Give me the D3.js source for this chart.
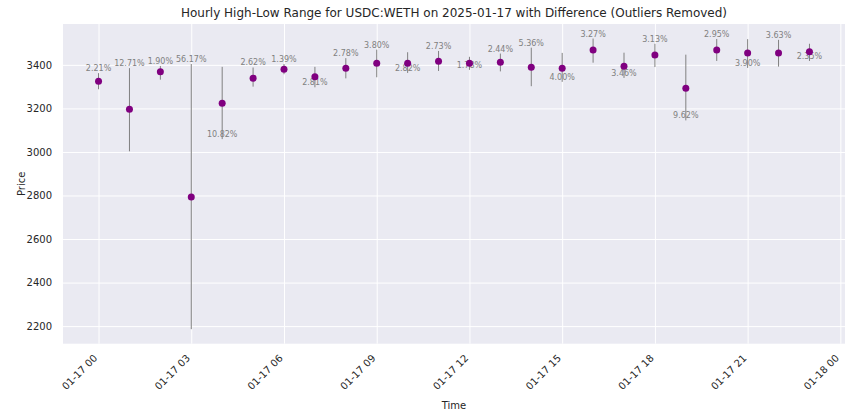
<!DOCTYPE html>
<html>
<head>
<meta charset="utf-8">
<script src="https://cdn.jsdelivr.net/npm/d3@7"></script>
<style>
  body { margin: 0; background: #fff; }
  text { font-family: "DejaVu Sans", sans-serif; }
</style>
</head>
<body>
<svg id="chart"></svg>
<script>
const hours = ["00:00", "01:00", "02:00", "03:00", "04:00", "05:00", "06:00", "07:00",
    "08:00", "09:00", "10:00", "11:00", "12:00", "13:00", "14:00", "15:00",
    "16:00", "17:00", "18:00", "19:00", "20:00", "21:00", "22:00", "23:00"];
const highs = [3362, 3385, 3395, 3404, 3391, 3388, 3404, 3391, 3431, 3470, 3458, 3464,
    3437, 3452, 3479, 3455, 3521, 3456, 3497, 3447, 3519, 3518, 3515, 3497];
const lows = [3288, 3003, 3332, 2186, 3059, 3300, 3357, 3297, 3338, 3343, 3363, 3372,
    3377, 3370, 3302, 3322, 3410, 3340, 3390, 3145, 3418, 3386, 3392, 3418];
const closes = [3325, 3196, 3368, 2793, 3224, 3339, 3380, 3345, 3385, 3408, 3408, 3417,
    3408, 3412, 3389, 3385, 3468, 3394, 3445, 3293, 3468, 3454, 3454, 3460];
const diffLabels = ["2.21%", "12.71%", "1.90%", "56.17%", "10.82%", "2.62%", "1.39%", "2.81%",
    "2.78%", "3.80%", "2.82%", "2.73%", "1.78%", "2.44%", "5.36%", "4.00%",
    "3.27%", "3.46%", "3.13%", "9.62%", "2.95%", "3.90%", "3.63%", "2.35%"];
// where the difference text sits: at the high or at the low
const labelAt = ["high", "high", "high", "high", "low", "high", "high", "low",
    "high", "high", "low", "high", "low", "high", "high", "low",
    "high", "low", "high", "low", "high", "low", "high", "low"];
const yTicks = [2200, 2400, 2600, 2800, 3000, 3200, 3400];

const parseTime = d3.timeParse("%Y-%m-%d %H:%M");
const data = hours.map((h, i) => ({
    time: parseTime("2025-01-17 " + h),
    high: highs[i],
    low: lows[i],
    close: closes[i],
    label: diffLabels[i],
    at: labelAt[i]
}));

const W = 852, H = 420;
const margin = {top: 24, right: 7, bottom: 76.3, left: 63};
const width = W - margin.left - margin.right;
const height = H - margin.top - margin.bottom;

const svg = d3.select("#chart")
    .attr("width", W)
    .attr("height", H);

svg.append("rect").attr("width", W).attr("height", H).attr("fill", "#fff");

const g = svg.append("g")
    .attr("transform", `translate(${margin.left},${margin.top})`);

// matplotlib style 5% padding
const tExt = d3.extent(data, d => d.time);
const tPad = (tExt[1] - tExt[0]) * 0.05;
const x = d3.scaleTime()
    .domain([new Date(+tExt[0] - tPad), new Date(+tExt[1] + tPad)])
    .range([0, width]);

const yMin = d3.min(data, d => d.low), yMax = d3.max(data, d => d.high);
const yPad = (yMax - yMin) * 0.05;
const y = d3.scaleLinear()
    .domain([yMin - yPad, yMax + yPad])
    .range([height, 0]);

g.append("rect")
    .attr("width", width)
    .attr("height", height)
    .attr("fill", "#eaeaf2");

const xTicks = x.ticks(d3.timeHour.every(3));

// grid
g.append("g")
    .attr("class", "grid x-grid")
    .attr("transform", `translate(0,${height})`)
    .call(d3.axisBottom(x).tickValues(xTicks).tickSize(-height).tickFormat(""))
    .call(s => s.select(".domain").remove())
    .selectAll("line")
    .attr("stroke", "#fff")
    .attr("stroke-width", 1);

g.append("g")
    .attr("class", "grid y-grid")
    .call(d3.axisLeft(y).tickValues(yTicks).tickSize(-width).tickFormat(""))
    .call(s => s.select(".domain").remove())
    .selectAll("line")
    .attr("stroke", "#fff")
    .attr("stroke-width", 1);

// axes text
const xAxis = g.append("g")
    .attr("class", "axis x-axis")
    .attr("transform", `translate(0,${height})`)
    .call(d3.axisBottom(x).tickValues(xTicks).tickSize(0).tickFormat(d3.timeFormat("%m-%d %H")));
xAxis.select(".domain").remove();
xAxis.selectAll("text")
    .attr("y", 0)
    .attr("dy", 0)
    .attr("text-anchor", "end")
    .attr("transform", "translate(-1,15) rotate(-45)")
    .style("font-size", "10px")
    .attr("fill", "#262626");

const yAxis = g.append("g")
    .attr("class", "axis y-axis")
    .call(d3.axisLeft(y).tickValues(yTicks).tickSize(0).tickPadding(11).tickFormat(d3.format("d")));
yAxis.select(".domain").remove();
yAxis.selectAll("text")
    .style("font-size", "10px")
    .attr("fill", "#262626");

// difference labels
g.selectAll(".diff")
    .data(data)
    .enter().append("text")
    .attr("class", "diff")
    .attr("x", d => x(d.time))
    .attr("y", d => y(d.at === "high" ? d.high : d.low) - 2)
    .attr("text-anchor", "middle")
    .style("font-size", "8px")
    .attr("fill", "#808080")
    .text(d => d.label);

// high-low range
g.selectAll(".range")
    .data(data)
    .enter().append("line")
    .attr("class", "range")
    .attr("x1", d => x(d.time))
    .attr("x2", d => x(d.time))
    .attr("y1", d => y(d.high))
    .attr("y2", d => y(d.low))
    .attr("stroke", "#808080")
    .attr("stroke-width", 1);

g.selectAll(".dot")
    .data(data)
    .enter().append("circle")
    .attr("class", "dot")
    .attr("cx", d => x(d.time))
    .attr("cy", d => y(d.close))
    .attr("r", 3.5)
    .attr("fill", "#800080");

// titles
svg.append("text")
    .attr("x", margin.left + width / 2)
    .attr("y", 17)
    .attr("text-anchor", "middle")
    .style("font-size", "12px")
    .attr("fill", "#262626")
    .text("Hourly High-Low Range for USDC:WETH on 2025-01-17 with Difference (Outliers Removed)");

svg.append("text")
    .attr("x", margin.left + width / 2)
    .attr("y", 408.5)
    .attr("text-anchor", "middle")
    .style("font-size", "10px")
    .attr("fill", "#262626")
    .text("Time");

svg.append("text")
    .attr("transform", `translate(${24.5},${margin.top + height / 2}) rotate(-90)`)
    .attr("text-anchor", "middle")
    .style("font-size", "10px")
    .attr("fill", "#262626")
    .text("Price");
</script>
</body>
</html>
